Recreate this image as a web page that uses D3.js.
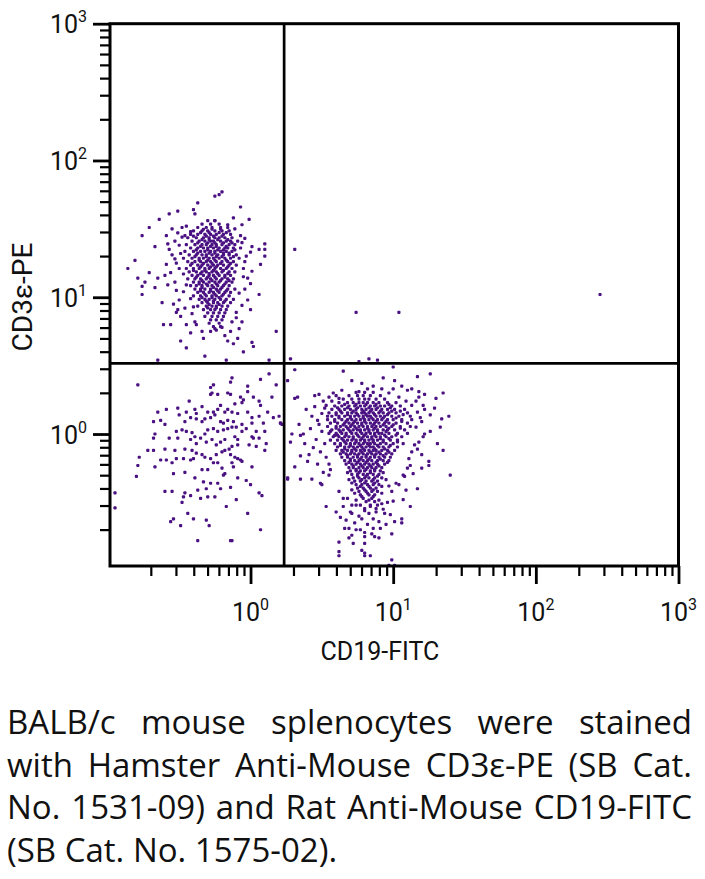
<!DOCTYPE html>
<html><head><meta charset="utf-8">
<script src="https://cdn.jsdelivr.net/npm/d3@7"></script>
<style>
html,body{margin:0;padding:0;background:#fff;}
svg{display:block;}
text{font-family:Roboto,"Liberation Sans",sans-serif;fill:#111;}
text.cap{font-family:"Open Sans",Roboto,sans-serif;}
</style></head><body>
<svg id="chart" width="705" height="879"></svg>
<script>
// ---------------- data (log10 fluorescence units) ----------------
const xDomain = [0.1035, 1000];          // CD19-FITC axis range
const yDomain = [0.1084, 1000];          // CD3e-PE axis range
const majorExponents = [0, 1, 2, 3];
const minorMultipliers = [2, 3, 4, 5, 6, 7, 8, 9];
const xTitle = "CD19-FITC";
const yTitle = "CD3\u03b5-PE";
const gateCD19 = 1.72;
const gateCD3 = 3.29;
const caption = [
  "BALB/c mouse splenocytes were stained",
  "with Hamster Anti-Mouse CD3\u03b5-PE (SB Cat.",
  "No. 1531-09) and Rat Anti-Mouse CD19-FITC",
  "(SB Cat. No. 1575-02)."
];

// T cells (CD3+ CD19-), scattered events [log CD19, log CD3]
const tCellsSparse = [[-0.20,1.77],[-0.25,1.74],[-0.22,1.75],[-0.37,1.69],[-0.40,1.64],[-0.39,1.61],[-0.07,1.66],[-0.51,1.63],[-0.57,1.61],[-0.12,1.58],[-0.01,1.57],[-0.25,1.56],[-0.64,1.57],[-0.71,1.51],[-0.76,1.45],[-0.45,1.52],[-0.48,1.51],[-0.59,1.45],[-0.51,1.47],[-0.67,1.37],[-0.58,1.39],[0.10,1.39],[0.10,1.35],[0.10,1.30],[0.06,1.35],[0.00,1.33],[0.07,1.24],[-0.86,1.21],[-0.81,1.27],[-0.79,1.14],[-0.74,1.11],[-0.76,1.08],[-0.71,1.18],[-0.65,1.14],[-0.67,1.07],[-0.76,1.02],[0.01,1.19],[0.00,1.10],[-0.04,1.06],[0.06,1.02],[-0.62,0.96],[-0.54,0.95],[-0.51,0.91],[-0.61,0.80],[-0.56,0.80],[-0.49,0.68],[-0.45,0.63],[0.18,0.75],[-0.32,0.57],[-0.65,0.54],[0.13,0.54],[0.02,0.64],[-0.05,0.60],[0.01,0.67],[-0.09,0.70],[-0.16,0.68],[-0.12,0.66],[-0.17,0.54],[-0.42,0.74],[-0.45,0.80],[-0.39,0.82],[-0.34,0.75],[-0.28,0.75],[-0.25,0.77],[-0.20,0.78],[-0.14,0.75],[-0.08,0.77],[-0.06,0.82],[-0.13,0.82],[-0.10,0.89],[0.00,0.91],[-0.02,0.98],[-0.06,0.94],[-0.49,0.86],[-0.52,0.89],[-0.41,0.88],[-0.58,1.09],[-0.60,1.16],[-0.56,1.18],[-0.53,1.11],[-0.59,1.24],[-0.52,1.25],[-0.55,1.31],[-0.57,1.35],[-0.53,1.41],[-0.48,1.44],[-0.46,1.45],[-0.42,1.48],[-0.49,1.32],[-0.47,1.17],[-0.45,1.09],[-0.47,1.04],[-0.42,0.99],[-0.40,0.93],[-0.04,1.26],[-0.05,1.15],[-0.07,1.45],[-0.04,1.43],[-0.11,1.50],[-0.16,1.53],[-0.06,1.53],[0.01,1.37],[-0.55,1.50],[-0.50,1.38],[-0.53,1.28],[-0.50,1.21],[-0.52,1.05],[-0.50,0.98],[-0.06,1.40],[-0.03,1.30],[-0.05,1.21],[-0.02,1.14],[-0.08,1.03],[-0.46,0.92],[-0.38,0.80],[-0.33,0.70],[-0.18,0.72],[-0.10,0.85]];

// T cells, dense core: [log CD3, [log CD19 ...]]
const tCellsCore = [
  [1.56,[-0.30,-0.25]],
  [1.535,[-0.34,-0.28,-0.22]],
  [1.51,[-0.37,-0.31,-0.27,-0.21,-0.16]],
  [1.485,[-0.40,-0.34,-0.30,-0.25,-0.20,-0.15]],
  [1.46,[-0.42,-0.37,-0.32,-0.28,-0.24,-0.19,-0.14]],
  [1.435,[-0.44,-0.38,-0.33,-0.29,-0.25,-0.22,-0.18,-0.13]],
  [1.41,[-0.41,-0.36,-0.32,-0.28,-0.26,-0.21,-0.17,-0.14,-0.09]],
  [1.385,[-0.45,-0.39,-0.34,-0.31,-0.27,-0.24,-0.20,-0.15,-0.11]],
  [1.36,[-0.42,-0.37,-0.33,-0.30,-0.26,-0.22,-0.18,-0.16,-0.12,-0.07]],
  [1.335,[-0.46,-0.40,-0.35,-0.32,-0.28,-0.25,-0.21,-0.17,-0.13]],
  [1.31,[-0.43,-0.38,-0.34,-0.31,-0.27,-0.23,-0.19,-0.15,-0.10]],
  [1.285,[-0.47,-0.41,-0.36,-0.33,-0.29,-0.26,-0.22,-0.18,-0.14,-0.08]],
  [1.26,[-0.44,-0.39,-0.35,-0.31,-0.28,-0.24,-0.20,-0.16,-0.12]],
  [1.235,[-0.42,-0.37,-0.34,-0.30,-0.26,-0.23,-0.19,-0.15,-0.10]],
  [1.21,[-0.45,-0.40,-0.36,-0.32,-0.29,-0.25,-0.21,-0.17,-0.13]],
  [1.185,[-0.43,-0.38,-0.34,-0.31,-0.27,-0.24,-0.20,-0.15,-0.11]],
  [1.16,[-0.41,-0.37,-0.33,-0.29,-0.26,-0.22,-0.18,-0.14]],
  [1.135,[-0.44,-0.39,-0.35,-0.31,-0.28,-0.24,-0.20,-0.16,-0.12]],
  [1.11,[-0.40,-0.36,-0.33,-0.29,-0.25,-0.22,-0.17,-0.13]],
  [1.085,[-0.42,-0.38,-0.34,-0.30,-0.27,-0.23,-0.19,-0.15]],
  [1.06,[-0.39,-0.35,-0.32,-0.28,-0.24,-0.21,-0.16,-0.11]],
  [1.035,[-0.37,-0.33,-0.29,-0.26,-0.22,-0.18,-0.14]],
  [1.01,[-0.40,-0.35,-0.31,-0.27,-0.24,-0.20,-0.15]],
  [0.985,[-0.36,-0.32,-0.29,-0.25,-0.21,-0.17,-0.12]],
  [0.96,[-0.34,-0.30,-0.26,-0.23,-0.19,-0.14]],
  [0.935,[-0.37,-0.31,-0.27,-0.24,-0.20,-0.16]],
  [0.91,[-0.33,-0.28,-0.25,-0.21,-0.17]],
  [0.885,[-0.30,-0.26,-0.22,-0.18]],
  [0.86,[-0.32,-0.27,-0.23,-0.19]],
  [0.835,[-0.28,-0.24,-0.20]],
  [0.81,[-0.29,-0.22]],
  [0.785,[-0.26,-0.21]],
  [0.76,[-0.24]]
];
// T cells, extra events filling the centre of the core
const tCellsCoreInner = [
  [1.497,[-0.33,-0.27,-0.21]],
  [1.472,[-0.35,-0.29,-0.22,-0.17]],
  [1.447,[-0.40,-0.31,-0.26,-0.20]],
  [1.422,[-0.34,-0.29,-0.23,-0.16]],
  [1.397,[-0.37,-0.30,-0.25,-0.19,-0.13]],
  [1.372,[-0.35,-0.28,-0.24,-0.17]],
  [1.347,[-0.38,-0.30,-0.23,-0.19,-0.11]],
  [1.322,[-0.37,-0.29,-0.25,-0.19,-0.15]],
  [1.297,[-0.39,-0.31,-0.24,-0.20,-0.12]],
  [1.272,[-0.36,-0.30,-0.25,-0.17]],
  [1.247,[-0.41,-0.33,-0.27,-0.21,-0.14]],
  [1.222,[-0.35,-0.28,-0.24,-0.16]],
  [1.197,[-0.40,-0.32,-0.26,-0.19]],
  [1.172,[-0.35,-0.29,-0.23,-0.16]],
  [1.147,[-0.38,-0.30,-0.25,-0.18]],
  [1.122,[-0.34,-0.27,-0.21,-0.15]],
  [1.097,[-0.36,-0.31,-0.24,-0.18]],
  [1.072,[-0.34,-0.26,-0.20]],
  [1.047,[-0.35,-0.28,-0.23,-0.17]],
  [1.022,[-0.32,-0.25,-0.19]],
  [0.997,[-0.34,-0.27,-0.22]],
  [0.972,[-0.31,-0.26,-0.18]],
  [0.947,[-0.29,-0.22]],
  [0.922,[-0.30,-0.24]]
];

// double-negative events (CD3- CD19-)
const negCells = [[-0.79,0.36],[-0.13,0.41],[-0.14,0.38],[0.13,0.44],[0.07,0.40],[0.18,0.36],[-0.26,0.36],[-0.28,0.34],[-0.02,0.35],[-0.02,0.31],[-0.28,0.29],[-0.27,0.30],[-0.23,0.29],[-0.16,0.30],[-0.14,0.29],[-0.07,0.27],[-0.05,0.25],[-0.06,0.23],[0.02,0.27],[0.06,0.24],[0.07,0.21],[0.15,0.27],[-0.43,0.24],[-0.11,0.22],[-0.21,0.21],[-0.51,0.19],[-0.45,0.16],[-0.39,0.18],[-0.34,0.20],[-0.38,0.15],[-0.30,0.16],[-0.26,0.16],[-0.23,0.18],[-0.18,0.16],[-0.16,0.18],[-0.13,0.16],[-0.09,0.15],[-0.02,0.16],[0.01,0.12],[0.06,0.13],[0.12,0.16],[-0.65,0.16],[-0.59,0.18],[-0.68,0.09],[-0.63,0.10],[-0.60,0.07],[-0.50,0.14],[-0.46,0.09],[-0.42,0.12],[-0.38,0.11],[-0.34,0.09],[-0.32,0.11],[-0.28,0.12],[-0.25,0.14],[-0.21,0.09],[-0.19,0.08],[-0.16,0.10],[-0.12,0.09],[-0.10,0.05],[-0.06,0.07],[-0.03,0.04],[0.01,0.08],[0.04,0.02],[0.09,0.08],[0.10,0.02],[0.16,0.12],[0.20,0.13],[0.21,0.08],[0.22,0.07],[-0.52,0.02],[-0.48,0.03],[-0.45,0.02],[-0.41,0.01],[-0.39,-0.02],[-0.35,-0.03],[-0.32,0.00],[-0.30,0.03],[-0.26,0.04],[-0.23,0.02],[-0.19,0.03],[-0.16,0.04],[-0.13,0.05],[-0.11,-0.02],[-0.09,-0.04],[-0.06,0.02],[0.01,-0.02],[0.02,-0.03],[0.06,-0.03],[-0.67,0.00],[-0.68,-0.03],[-0.57,-0.03],[-0.51,-0.03],[-0.42,-0.04],[-0.38,-0.07],[-0.31,-0.06],[-0.27,-0.04],[-0.24,-0.08],[-0.21,-0.06],[-0.18,-0.04],[-0.15,-0.11],[-0.13,-0.09],[-0.09,-0.08],[-0.01,-0.08],[0.04,-0.09],[0.10,-0.12],[0.11,-0.07],[-0.72,-0.12],[-0.68,-0.12],[-0.60,-0.11],[-0.53,-0.12],[-0.46,-0.11],[-0.41,-0.12],[-0.38,-0.14],[-0.34,-0.15],[-0.32,-0.17],[-0.28,-0.18],[-0.24,-0.15],[-0.20,-0.13],[-0.18,-0.12],[-0.14,-0.15],[-0.11,-0.17],[-0.09,-0.18],[-0.07,-0.19],[-0.78,-0.17],[-0.79,-0.23],[-0.80,-0.31],[-0.63,-0.19],[-0.59,-0.19],[-0.55,-0.21],[-0.52,-0.18],[-0.47,-0.18],[-0.42,-0.19],[-0.40,-0.18],[-0.34,-0.26],[-0.30,-0.26],[-0.26,-0.21],[-0.23,-0.21],[-0.20,-0.25],[-0.18,-0.29],[-0.19,-0.30],[-0.13,-0.21],[-0.12,-0.24],[-0.06,-0.20],[0.01,-0.24],[-0.67,-0.24],[-0.54,-0.29],[-0.46,-0.28],[-0.39,-0.32],[-0.33,-0.35],[-0.28,-0.36],[-0.23,-0.36],[-0.21,-0.40],[-0.14,-0.39],[-0.09,-0.32],[-0.03,-0.34],[0.00,-0.37],[-0.60,-0.42],[-0.55,-0.42],[-0.46,-0.43],[-0.47,-0.46],[-0.42,-0.45],[-0.37,-0.41],[-0.31,-0.40],[-0.35,-0.47],[-0.30,-0.46],[-0.25,-0.46],[-0.10,-0.48],[0.06,-0.43],[0.08,-0.45],[-0.48,-0.50],[-0.17,-0.53],[-0.02,-0.58],[-0.44,-0.58],[-0.40,-0.62],[-0.31,-0.63],[-0.29,-0.67],[-0.54,-0.62],[-0.56,-0.64],[-0.49,-0.67],[0.07,-0.70],[-0.37,-0.78],[-0.14,-0.78],[-0.13,-0.78],[-0.95,-0.43],[-0.95,-0.54],[0.21,0.08]];

// B cells (CD19+ CD3-), scattered events
const bCellsSparse = [[0.28,0.55],[0.83,0.55],[0.89,0.54],[0.76,0.53],[0.31,0.47],[0.26,0.39],[0.65,0.46],[1.00,0.49],[1.26,0.44],[1.17,0.42],[0.93,0.41],[1.01,0.39],[0.71,0.39],[0.78,0.37],[0.48,0.29],[0.33,0.27],[0.31,0.26],[1.35,0.30],[1.22,0.29],[1.30,0.26],[0.39,0.18],[0.43,0.13],[0.34,0.07],[0.29,0.00],[0.28,-0.06],[0.38,-0.07],[0.35,-0.01],[0.37,0.00],[1.35,-0.12],[1.39,0.13],[1.34,0.11],[1.33,0.05],[1.31,-0.07],[1.26,0.02],[0.35,-0.16],[0.41,-0.15],[0.31,-0.24],[0.26,-0.33],[0.35,-0.33],[0.43,-0.33],[0.51,-0.28],[0.55,-0.30],[0.49,-0.36],[0.50,-0.37],[0.55,-0.22],[1.25,-0.23],[1.20,-0.25],[1.40,-0.30],[1.17,-0.40],[1.08,-0.31],[0.53,-0.53],[0.62,-0.42],[0.60,-0.57],[0.63,-0.61],[0.67,-0.63],[0.69,-0.69],[0.74,-0.70],[0.71,-0.74],[0.80,-0.72],[0.80,-0.75],[0.62,-0.79],[0.62,-0.86],[0.62,-0.89],[0.72,-0.80],[0.80,-0.80],[0.80,-0.87],[0.80,-0.89],[0.87,-0.75],[0.90,-0.76],[0.86,-0.69],[0.91,-0.69],[0.94,-0.58],[0.98,-0.59],[0.99,-0.73],[1.01,-0.64],[1.06,-0.62],[1.06,-0.65],[1.12,-0.53],[1.07,-0.48],[1.00,-0.49],[0.96,-0.50],[0.99,-0.92],[0.97,-0.96],[1.01,-0.96],[0.84,-0.89],[0.78,-0.85],[0.66,-0.69],[0.65,-0.53],[0.71,-0.52],[0.74,-0.52],[0.80,-0.56],[0.84,-0.53],[0.89,-0.52],[0.92,-0.51],[0.65,-0.47],[0.86,-0.62],[0.90,-0.64],[0.78,-0.62],[0.70,-0.57],[0.53,0.21],[0.52,0.19],[0.48,0.07],[0.56,0.02],[0.59,-0.01],[0.54,0.13],[0.62,0.26],[0.64,0.32],[0.76,0.31],[0.82,0.33],[0.86,0.35],[0.92,0.33],[1.00,0.33],[1.06,0.35],[1.10,0.32],[1.13,0.33],[1.18,0.31],[1.18,0.27],[1.21,0.21],[1.22,0.18],[1.13,0.21],[1.17,0.16],[1.26,0.14],[1.29,0.19],[1.20,0.09],[1.22,0.00],[1.18,-0.06],[1.15,-0.08],[1.20,-0.15],[1.25,-0.20],[1.13,-0.13],[1.11,-0.18],[1.07,-0.30],[1.04,-0.37],[1.12,-0.23],[0.26,-0.32],[0.45,0.20],[0.50,0.15],[0.47,0.10],[0.42,0.04],[0.50,0.02],[0.46,-0.04],[0.52,-0.07],[0.44,-0.10],[0.49,-0.13],[0.53,-0.17],[0.40,-0.20],[0.47,-0.22],[0.56,-0.26],[0.51,0.24],[0.55,0.27],[0.58,0.30],[0.45,0.28],[1.16,0.24],[1.19,0.12],[1.16,0.05],[1.21,-0.02],[1.17,-0.11],[1.10,-0.25],[1.14,-0.29],[1.02,-0.36],[0.99,-0.42],[0.97,-0.38],[1.09,-0.41],[0.68,-0.47],[0.71,-0.58],[0.76,-0.60],[0.83,-0.58],[0.88,-0.57],[0.93,-0.55],[0.73,-0.65],[0.82,-0.66],[0.95,-0.66],[0.77,-0.70],[0.85,-0.73],[0.69,-0.76],[0.60,0.28],[0.97,0.30],[1.04,0.27],[0.57,0.24],[1.09,0.24]];

// B cells, dense core: [log CD3, [log CD19 ...]]
const bCellsCore = [
  [0.305,[0.74,0.80,0.86]],
  [0.28,[0.69,0.75,0.79,0.84,0.91]],
  [0.255,[0.65,0.71,0.76,0.80,0.83,0.88,0.94]],
  [0.23,[0.62,0.68,0.72,0.76,0.79,0.82,0.86,0.90,0.96,1.02]],
  [0.205,[0.59,0.64,0.69,0.73,0.77,0.80,0.84,0.87,0.91,0.94,0.99,1.05]],
  [0.18,[0.57,0.62,0.66,0.70,0.74,0.78,0.81,0.85,0.88,0.92,0.96,1.01,1.08]],
  [0.155,[0.55,0.60,0.64,0.68,0.71,0.74,0.78,0.80,0.83,0.86,0.90,0.93,0.97,1.02,1.10]],
  [0.13,[0.57,0.62,0.66,0.70,0.73,0.76,0.79,0.82,0.84,0.88,0.91,0.94,0.99,1.04,1.12]],
  [0.105,[0.54,0.59,0.64,0.68,0.71,0.74,0.77,0.80,0.83,0.86,0.89,0.92,0.96,1.00,1.06,1.13]],
  [0.08,[0.56,0.61,0.66,0.69,0.72,0.75,0.78,0.81,0.84,0.87,0.90,0.94,0.97,1.02,1.10]],
  [0.055,[0.54,0.60,0.63,0.67,0.70,0.73,0.76,0.79,0.82,0.85,0.88,0.91,0.95,0.99,1.05,1.12]],
  [0.03,[0.57,0.62,0.65,0.69,0.72,0.75,0.77,0.80,0.83,0.86,0.89,0.93,0.96,1.01,1.08]],
  [0.005,[0.55,0.60,0.64,0.67,0.71,0.74,0.78,0.81,0.84,0.87,0.90,0.92,0.97,1.03,1.10]],
  [-0.02,[0.58,0.62,0.66,0.69,0.72,0.76,0.79,0.82,0.85,0.88,0.91,0.95,0.99,1.06]],
  [-0.045,[0.56,0.61,0.65,0.68,0.71,0.74,0.77,0.80,0.83,0.86,0.89,0.93,0.98,1.03]],
  [-0.07,[0.59,0.63,0.67,0.70,0.73,0.76,0.79,0.82,0.84,0.87,0.91,0.95,1.00,1.07]],
  [-0.095,[0.61,0.66,0.69,0.72,0.75,0.78,0.81,0.84,0.86,0.90,0.93,0.97,1.03]],
  [-0.12,[0.60,0.64,0.68,0.71,0.74,0.77,0.80,0.83,0.86,0.88,0.92,0.96,1.01]],
  [-0.145,[0.63,0.67,0.70,0.73,0.76,0.79,0.82,0.85,0.88,0.91,0.95,0.99]],
  [-0.17,[0.64,0.68,0.72,0.75,0.78,0.81,0.84,0.87,0.90,0.94,0.98]],
  [-0.195,[0.66,0.70,0.73,0.76,0.79,0.82,0.85,0.89,0.93,0.97]],
  [-0.22,[0.67,0.71,0.74,0.77,0.80,0.83,0.86,0.89,0.94]],
  [-0.245,[0.69,0.72,0.76,0.79,0.82,0.85,0.88,0.92]],
  [-0.27,[0.70,0.74,0.77,0.80,0.84,0.87,0.91]],
  [-0.295,[0.71,0.75,0.79,0.82,0.86,0.90]],
  [-0.32,[0.72,0.76,0.80,0.83,0.87,0.92]],
  [-0.345,[0.73,0.77,0.81,0.85,0.89]],
  [-0.37,[0.74,0.78,0.82,0.86,0.90]],
  [-0.395,[0.75,0.79,0.84,0.88]],
  [-0.42,[0.76,0.81,0.85,0.89]],
  [-0.445,[0.77,0.83,0.87]],
  [-0.47,[0.79,0.85]],
  [-0.495,[0.81,0.87]]
];
// B cells, extra events filling the centre and tail of the core
const bCellsCoreInner = [
  [0.217,[0.66,0.74,0.81,0.88,0.97]],
  [0.192,[0.61,0.68,0.75,0.83,0.89,0.98]],
  [0.167,[0.63,0.72,0.79,0.84,0.91,0.99,1.05]],
  [0.142,[0.60,0.68,0.75,0.81,0.87,0.96,1.07]],
  [0.117,[0.62,0.70,0.79,0.85,0.93,1.02]],
  [0.092,[0.59,0.67,0.73,0.80,0.88,0.95,1.06]],
  [0.067,[0.65,0.71,0.78,0.86,0.93,1.00]],
  [0.042,[0.60,0.68,0.74,0.82,0.87,0.97,1.05]],
  [0.017,[0.63,0.70,0.77,0.83,0.89,0.95]],
  [-0.008,[0.61,0.67,0.75,0.80,0.87,0.94,1.02]],
  [-0.033,[0.64,0.72,0.78,0.85,0.91,0.97]],
  [-0.058,[0.66,0.74,0.80,0.86,0.93,1.03]],
  [-0.083,[0.63,0.70,0.77,0.83,0.89,0.98]],
  [-0.108,[0.66,0.73,0.79,0.87,0.94]],
  [-0.133,[0.65,0.71,0.78,0.84,0.90,0.97]],
  [-0.158,[0.68,0.75,0.81,0.87,0.93]],
  [-0.183,[0.70,0.77,0.83,0.91]],
  [-0.208,[0.69,0.75,0.81,0.88,0.96]],
  [-0.233,[0.72,0.78,0.84,0.90]],
  [-0.258,[0.74,0.81,0.87]],
  [-0.283,[0.68,0.76,0.84,0.93]],
  [-0.308,[0.75,0.81,0.89]],
  [-0.333,[0.69,0.78,0.86,0.95]],
  [-0.358,[0.71,0.80,0.87]],
  [-0.383,[0.77,0.83,0.92]],
  [-0.408,[0.71,0.80,0.86]],
  [-0.433,[0.73,0.82,0.92]],
  [-0.458,[0.78,0.86]],
  [-0.483,[0.74,0.83,0.90]],
  [-0.52,[0.77,0.84]],
  [-0.545,[0.80,0.88]]
];

// isolated events
const strayEvents = [[0.31,1.35],[0.74,0.89],[1.04,0.89],[2.45,1.02]];

// ---------------- build ----------------
const svg = d3.select("#chart");
const plot = {left:110, right:678.5, top:23.7, bottom:566};
const x = d3.scaleLog().domain(xDomain).range([plot.left, plot.right]);
const y = d3.scaleLog().domain(yDomain).range([plot.bottom, plot.top]);

const events = [];
const addPair = p => events.push({cd19: Math.pow(10,p[0]), cd3: Math.pow(10,p[1])});
const addRows = rows => rows.forEach(([ly, xs]) => xs.forEach(lx => addPair([lx, ly])));
tCellsSparse.forEach(addPair); addRows(tCellsCore); addRows(tCellsCoreInner);
negCells.forEach(addPair);
bCellsSparse.forEach(addPair); addRows(bCellsCore); addRows(bCellsCoreInner);
strayEvents.forEach(addPair);

svg.append("clipPath").attr("id","clip").append("rect")
  .attr("x",plot.left).attr("y",plot.top)
  .attr("width",plot.right-plot.left).attr("height",plot.bottom-plot.top);

const dotColor = "#4a1182";
const ds = 3.2;
svg.append("g").attr("clip-path","url(#clip)")
  .selectAll("rect").data(events).join("rect")
  .attr("x", d => x(d.cd19)-ds/2).attr("y", d => y(d.cd3)-ds/2)
  .attr("width",ds).attr("height",ds).attr("rx",1)
  .attr("fill", dotColor);

// gates
svg.append("line").attr("x1",x(gateCD19)).attr("x2",x(gateCD19))
  .attr("y1",plot.top).attr("y2",plot.bottom).attr("stroke","#000").attr("stroke-width",2.7);
svg.append("line").attr("x1",plot.left).attr("x2",plot.right)
  .attr("y1",y(gateCD3)).attr("y2",y(gateCD3)).attr("stroke","#000").attr("stroke-width",2.7);

// ticks
const majors = majorExponents.map(e => Math.pow(10,e));
const minors = [];
[-1,0,1,2].forEach(e => minorMultipliers.forEach(m => minors.push(m*Math.pow(10,e))));
const xMinors = minors.filter(v => v >= xDomain[0] && v <= xDomain[1]);
const yMinors = minors.filter(v => v >= yDomain[0] && v <= yDomain[1]);

function styleAxis(g, w){
  g.select(".domain").remove();
  g.selectAll(".tick line").attr("stroke","#000").attr("stroke-width",w);
  g.selectAll(".tick text").remove();
}
svg.append("g").attr("transform",`translate(0,${plot.bottom})`)
  .call(d3.axisBottom(x).tickValues(xMinors).tickSize(10).tickFormat(""))
  .call(g => styleAxis(g,2.2));
svg.append("g").attr("transform",`translate(0,${plot.bottom})`)
  .call(d3.axisBottom(x).tickValues(majors).tickSize(18).tickFormat(""))
  .call(g => styleAxis(g,2.8));
svg.append("g").attr("transform",`translate(${plot.left},0)`)
  .call(d3.axisLeft(y).tickValues(yMinors).tickSize(10).tickFormat(""))
  .call(g => styleAxis(g,2.2));
svg.append("g").attr("transform",`translate(${plot.left},0)`)
  .call(d3.axisLeft(y).tickValues(majors).tickSize(17).tickFormat(""))
  .call(g => styleAxis(g,2.8));

// frame
svg.append("rect").attr("x",plot.left).attr("y",plot.top)
  .attr("width",plot.right-plot.left).attr("height",plot.bottom-plot.top)
  .attr("fill","none").attr("stroke","#000").attr("stroke-width",3);

// tick labels
function powLabel(sel, e){
  sel.append("tspan").text("10");
  sel.append("tspan").attr("dy",-11).attr("font-size",16).text(e);
}
majorExponents.forEach(e => {
  const v = Math.pow(10,e);
  svg.append("text").attr("x",x(v)).attr("y",621).attr("text-anchor","middle")
    .attr("font-size",25).call(s => powLabel(s,e));
  svg.append("text").attr("x",87).attr("y",y(v)+9.5).attr("text-anchor","end")
    .attr("font-size",25).call(s => powLabel(s,e));
});

// axis titles
svg.append("text").attr("x",380).attr("y",660).attr("text-anchor","middle")
  .attr("font-size",25).text(xTitle);
svg.append("text").attr("transform","translate(32,297) rotate(-90)")
  .attr("text-anchor","middle").attr("font-size",28).text(yTitle);

// caption (justified)
const capLeft = 7, capRight = 692, capBase = 734, capLead = 42.7;
const probe = svg.append("text").attr("class","cap").attr("font-size",28);
const measure = s => { probe.text(s); return probe.node().getComputedTextLength(); };
// size the caption font so the last (unjustified) line spans its width in the reference
const capSize = Math.min(33, 28 * 345 / measure(caption[caption.length-1]));
probe.attr("font-size",capSize);
const spaceW = measure("a b") - measure("ab");
probe.remove();
caption.forEach((line, i) => {
  const words = line.split(" ");
  const yb = capBase + i*capLead;
  const nodes = words.map(w => svg.append("text").attr("class","cap").attr("font-size",capSize).attr("y",yb).text(w));
  const widths = nodes.map(n => n.node().getComputedTextLength());
  const total = d3.sum(widths);
  const gap = (i < caption.length-1) ? (capRight-capLeft-total)/(words.length-1) : spaceW;
  let cx = capLeft;
  nodes.forEach((n,j) => { n.attr("x",cx); cx += widths[j] + gap; });
});
</script>
</body></html>
